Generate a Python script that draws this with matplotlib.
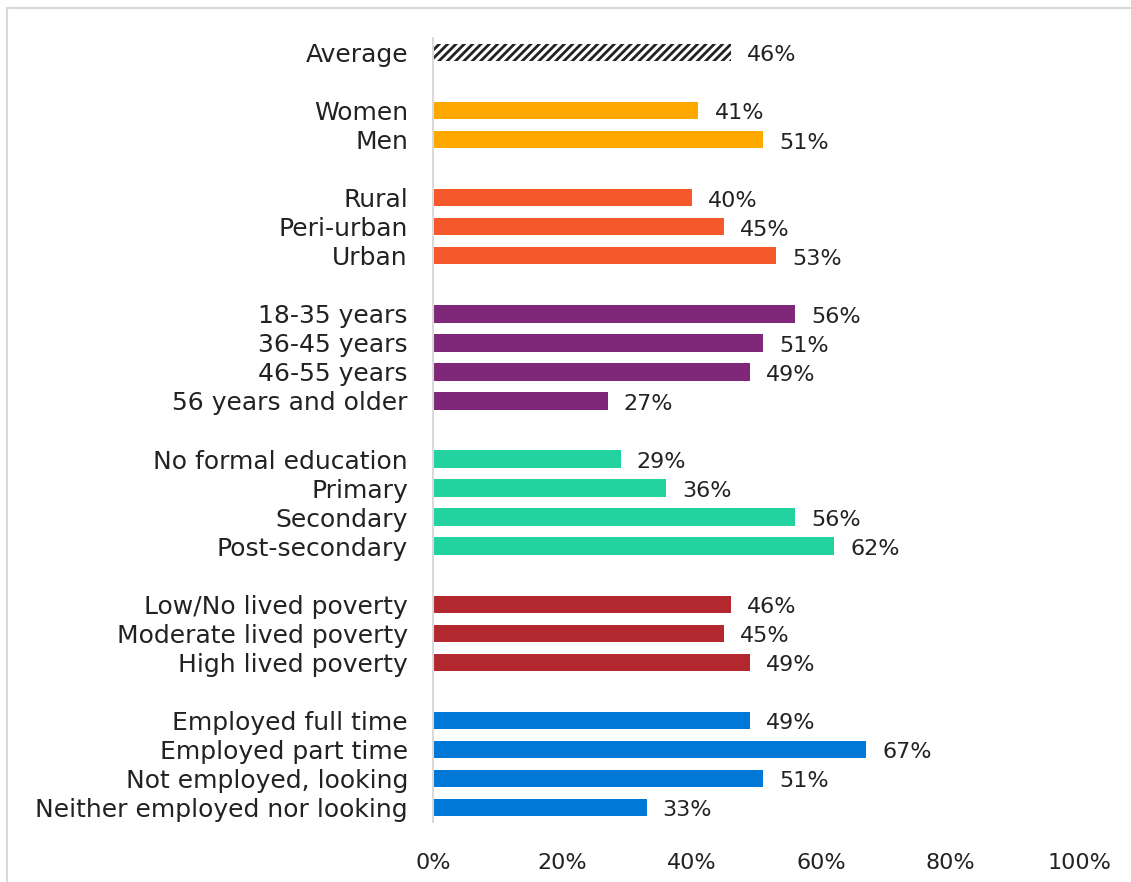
import matplotlib
matplotlib.use("Agg")
import matplotlib.pyplot as plt
from matplotlib.patches import Rectangle

plt.rcParams['font.family'] = ['DejaVu Sans']
plt.rcParams['hatch.linewidth'] = 2.0

categories = ["Average",
              "Women", "Men",
              "Rural", "Peri-urban", "Urban",
              "18-35 years", "36-45 years", "46-55 years", "56 years and older",
              "No formal education", "Primary", "Secondary", "Post-secondary",
              "Low/No lived poverty", "Moderate lived poverty", "High lived poverty",
              "Employed full time", "Employed part time", "Not employed, looking",
              "Neither employed nor looking"]
values = [46,
          41, 51,
          40, 45, 53,
          56, 51, 49, 27,
          29, 36, 56, 62,
          46, 45, 49,
          49, 67, 51, 33]
groups = [0, 1, 1, 2, 2, 2, 3, 3, 3, 3, 4, 4, 4, 4, 5, 5, 5, 6, 6, 6, 6]
group_colors = ["#222222", "#FFA800", "#F5582A", "#7F2778", "#22D3A0", "#B2282E", "#0078D7"]
x_ticks = [0, 20, 40, 60, 80, 100]

fig = plt.figure(figsize=(11.31, 8.82), dpi=100)
W, H = 1131, 882
ax = fig.add_axes([433 / W, 1 - 822 / H, (1080 - 433) / W, (822 - 38) / H])

# positions with gaps between groups
positions = []
pos = 0
prev = groups[0]
for g in groups:
    if g != prev:
        pos += 1
        prev = g
    positions.append(pos)
    pos += 1

for p, v, g, lab in zip(positions, values, groups, categories):
    if g == 0:
        ax.barh(p, v, height=0.6, color="white", edgecolor="#222222", hatch="////", linewidth=0)
    else:
        ax.barh(p, v, height=0.6, color=group_colors[g], linewidth=0)
    ax.text(v + 2.5, p + 0.1, f"{v}%", va="center", ha="left", fontsize=16, color="#222222")

ax.set_ylim(positions[-1] + 0.5, -0.5)
ax.set_xlim(0, 100)
ax.set_yticks(positions)
ax.set_yticklabels(categories, fontsize=18, color="#222222")
ax.set_xticks(x_ticks)
ax.set_xticklabels([f"{t}%" for t in x_ticks], fontsize=16, color="#222222")
ax.tick_params(axis="both", length=0)
ax.tick_params(axis="y", pad=18)
ax.tick_params(axis="x", pad=22)
for s in ["top", "right", "bottom"]:
    ax.spines[s].set_visible(False)
ax.spines["left"].set_color("#D9D9D9")
ax.spines["left"].set_linewidth(1.5)

fig.patches.append(Rectangle((7 / W, -0.1), 1.2, 1 - 8 / H + 0.1, transform=fig.transFigure,
                             fill=False, edgecolor="#D9D9D9", linewidth=1.5, zorder=-1))

fig.savefig("out.png", dpi=100)
